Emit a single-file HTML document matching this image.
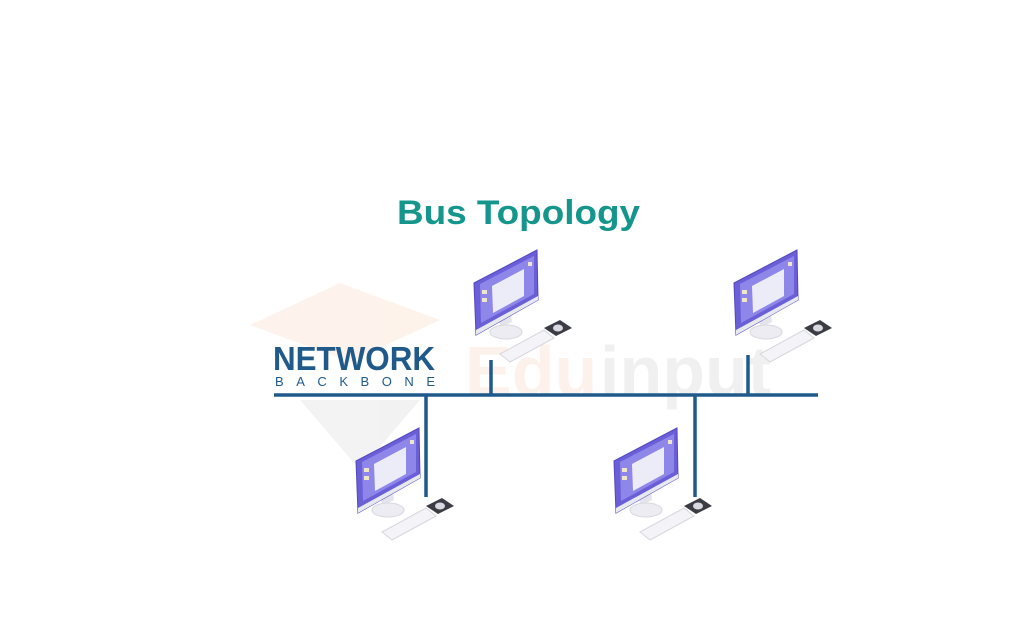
<!DOCTYPE html>
<html><head><meta charset="utf-8"><style>
html,body{margin:0;padding:0;background:#fff;}
svg{display:block}
</style></head><body>
<svg width="1024" height="630" viewBox="0 0 1024 630" xmlns="http://www.w3.org/2000/svg">
<defs>
<g id="pc">
  <polygon points="24,62 36,56 38,72 26,78" fill="#e4e4ec"/>
  <ellipse cx="32" cy="82" rx="16" ry="7" fill="#ececf2" stroke="#d8d8e0"/>
  <polygon points="0,33 63,0 64,50 2,85" fill="#6b5fd8"/>
  <polygon points="0,33 63,0 64,50 2,85" fill="none" stroke="#5448c0" stroke-width="1"/>
  <polygon points="2,80 64,46 64,50 2,85" fill="#e8e8ef"/>
  <polygon points="6,34 60,6 60,44 7,73" fill="#8f86ea"/>
  <polygon points="18,36 50,19 50,46 19,63" fill="#ececf8"/>
  <rect x="8" y="40" width="5" height="4" fill="#f0e6c8"/>
  <rect x="8" y="48" width="5" height="4" fill="#f0e6c8"/>
  <rect x="54" y="12" width="4" height="4" fill="#f0e6c8"/>
  <polygon points="26,104 70,80 80,88 36,112" fill="#f4f4f8" stroke="#d6d6de"/>
  <polygon points="70,78 86,70 98,78 82,86" fill="#3c3c44"/>
  <ellipse cx="84" cy="78" rx="5" ry="3.5" fill="#d8d8e0"/>
</g>
</defs>
<g opacity="0.12">
  <polygon points="250,325 340,283 440,320 350,362" fill="#f0a060"/>
  <polygon points="300,400 420,400 360,470" fill="#999"/>
  <text x="465" y="395" font-family="Liberation Sans, sans-serif" font-size="70" font-weight="bold" fill="#f09060">Edu</text>
  <text x="600" y="395" font-family="Liberation Sans, sans-serif" font-size="70" font-weight="bold" fill="#888">input</text>
</g>
<text x="397" y="224" font-family="Liberation Sans, sans-serif" font-size="34" font-weight="bold" fill="#14968c" textLength="243" lengthAdjust="spacingAndGlyphs">Bus Topology</text>
<text x="273" y="370" font-family="Liberation Sans, sans-serif" font-size="33" font-weight="bold" fill="#1f5a8a" textLength="162" lengthAdjust="spacingAndGlyphs">NETWORK</text>
<text x="275" y="386" font-family="Liberation Sans, sans-serif" font-size="13" fill="#1f5a8a" textLength="160" lengthAdjust="spacing">BACKBONE</text>
<g stroke="#1f5a8a" stroke-width="3.5" fill="none">
  <line x1="274" y1="395" x2="818" y2="395"/>
  <line x1="491" y1="360" x2="491" y2="395"/>
  <line x1="748" y1="355" x2="748" y2="395"/>
  <line x1="426" y1="395" x2="426" y2="497"/>
  <line x1="695" y1="395" x2="695" y2="497"/>
</g>
<use href="#pc" x="474" y="250"/>
<use href="#pc" x="734" y="250"/>
<use href="#pc" x="356" y="428"/>
<use href="#pc" x="614" y="428"/>
</svg>
</body></html>
